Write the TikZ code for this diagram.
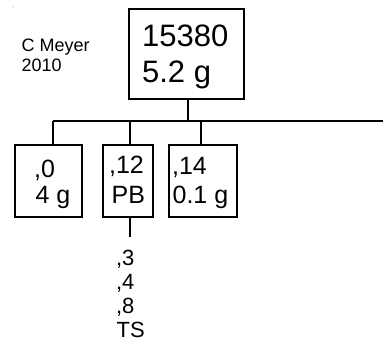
\documentclass[tikz,border=0pt]{standalone}
\usepackage{fontspec}
\setmainfont{Liberation Sans}
\begin{document}
\begin{tikzpicture}[x=1pt,y=-1pt,line width=1.2pt,
  box/.style={draw,inner sep=0pt,minimum width=#1},
  txt/.style={inner sep=0pt,anchor=base west}]
\useasboundingbox (0,0) rectangle (383,345);
\fill[gray!60] (13,7) circle (0.6);
% author
\node[txt,font=\fontsize{18}{20}\selectfont] (auth1) at (21,52) {C Meyer};
\node[txt,font=\fontsize{18}{20}\selectfont] (auth2) at (21,72) {2010};
% top box
\node[box=115pt,minimum height=90pt] (top) at (186.5,54) {};
\node[txt,font=\fontsize{31}{36}\selectfont] (t1) at (141.5,47) {15380};
\node[txt,font=\fontsize{31}{36}\selectfont] (t2) at (141.5,83) {5.2 g};
% bus
\coordinate (stem) at (188,121);
\coordinate (d1) at (53,121);
\coordinate (d2) at (130,121);
\coordinate (d3) at (201,121);
\coordinate (busR) at (383,121);
\draw (top.south -| stem) -- (stem);
\draw (d1) -- (busR);
% child boxes
\node[box=67pt,minimum height=72pt] (b1) at (48.5,181) {};
\node[box=50pt,minimum height=72pt] (b2) at (128,181) {};
\node[box=68pt,minimum height=72pt] (b3) at (203,181) {};
\draw (d1) -- (d1 |- b1.north);
\draw (d2) -- (d2 |- b2.north);
\draw (d3) -- (d3 |- b3.north);
\tikzset{bt/.style={txt,font=\fontsize{25}{28}\selectfont}}
\node[bt] (b1a) at (33.5,177) {,0};
\node[bt] (b1b) at (35,203) {4 g};
\node[bt] (b2a) at (108.5,173) {,12};
\node[bt] (b2b) at (111,203) {PB};
\node[bt] (b3a) at (171.5,174) {,14};
\node[bt] (b3b) at (172,203) {0.1 g};
% below PB
\coordinate (sub) at (130,237);
\draw (b2.south -| sub) -- (sub);
\tikzset{st/.style={txt,font=\fontsize{22}{24}\selectfont}}
\node[st] (s1) at (115.5,265) {,3};
\node[st] (s2) at (115.5,289) {,4};
\node[st] (s3) at (115.5,313) {,8};
\node[st] (s4) at (116,337) {TS};
\end{tikzpicture}
\end{document}
